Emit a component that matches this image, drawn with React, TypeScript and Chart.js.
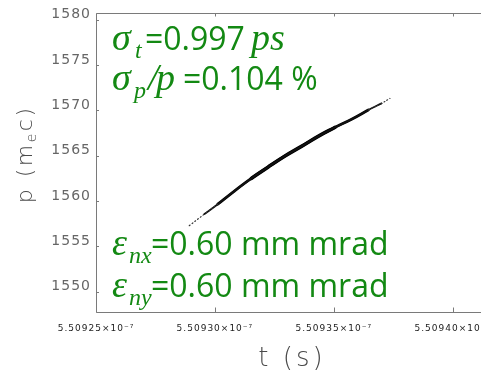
import React, { useEffect, useRef } from "react";
import { Chart, registerables } from "chart.js";

Chart.register(...registerables);

// t in units of 1e-7 s, p in units of m_e c
const tValues = [
  5.5092892, 5.5092956, 5.5093012, 5.5093082, 5.5093153, 5.5093223, 5.5093293,
  5.5093364, 5.5093434, 5.5093504, 5.5093575, 5.5093645, 5.5093701, 5.5093736,
];
const pValues = [
  1557.29, 1558.57, 1559.66, 1561.11, 1562.5, 1563.74, 1564.94,
  1566.03, 1567.13, 1568.11, 1569.02, 1570.04, 1570.77, 1571.31,
];
const xTickValues = [5.50925, 5.5093, 5.50935, 5.5094];
const yTickValues = [1550, 1555, 1560, 1565, 1570, 1575, 1580];
const xRange = [5.50925, 5.509414];
const yRange = [1547.78, 1580.68];
const xTitle = "t (s)";
const yTitleParts = ["p (m", "e", "c)"];

const sigmaT = "0.997";
const sigmaP = "0.104";
const emitX = "0.60";
const emitY = "0.60";

const GREEN = "#138913";
const GREEK = "italic 38px 'Liberation Serif'";
const SUB = "italic 24px 'Liberation Serif'";
const SANS = "32px 'Open Sans'";

type Part = { t: string; f: string; x: number; dy?: number };
const annotationLines: { y: number; parts: Part[] }[] = [
  {
    y: 50,
    parts: [
      { t: "σ", f: GREEK, x: 0 },
      { t: "t", f: SUB, x: 23, dy: 8 },
      { t: "=" + sigmaT, f: SANS, x: 33 },
      { t: "ps", f: GREEK, x: 139 },
    ],
  },
  {
    y: 90,
    parts: [
      { t: "σ", f: GREEK, x: 0 },
      { t: "p", f: SUB, x: 22, dy: 8 },
      { t: "/", f: GREEK, x: 36 },
      { t: "p", f: GREEK, x: 44 },
      { t: "=" + sigmaP + " %", f: SANS, x: 71 },
    ],
  },
  {
    y: 255,
    parts: [
      { t: "ε", f: GREEK, x: 0 },
      { t: "nx", f: SUB, x: 17, dy: 8 },
      { t: "=" + emitX + " mm mrad", f: SANS, x: 39 },
    ],
  },
  {
    y: 297,
    parts: [
      { t: "ε", f: GREEK, x: 0 },
      { t: "ny", f: SUB, x: 17, dy: 8 },
      { t: "=" + emitY + " mm mrad", f: SANS, x: 39 },
    ],
  },
];

const pts = (from: number, to: number) =>
  tValues.slice(from, to + 1).map((t, i) => ({ x: t, y: pValues[from + i] }));

const framePlugin = {
  id: "frame",
  beforeDraw(chart: any) {
    chart.ctx.letterSpacing = "1px";
  },
  afterDraw(chart: any) {
    const { ctx, chartArea: a, scales } = chart;
    ctx.save();
    ctx.letterSpacing = "0px";
    ctx.strokeStyle = "#7a7a7a";
    ctx.lineWidth = 1;
    ctx.beginPath();
    const L = Math.round(a.left) + 0.5;
    const T = Math.round(a.top) + 0.5;
    const B = Math.round(a.bottom) + 0.5;
    ctx.moveTo(chart.width, T);
    ctx.lineTo(L, T);
    ctx.lineTo(L, B);
    ctx.lineTo(chart.width, B);
    for (const tk of scales.x.ticks) {
      const px = Math.round(scales.x.getPixelForValue(tk.value)) + 0.5;
      ctx.moveTo(px, B);
      ctx.lineTo(px, B - 5);
      ctx.moveTo(px, T);
      ctx.lineTo(px, T + 3);
    }
    for (const tk of scales.y.ticks) {
      const py = Math.round(scales.y.getPixelForValue(tk.value)) + 0.5;
      ctx.moveTo(L, py);
      ctx.lineTo(L + 2.5, py);
    }
    ctx.stroke();

    // axis titles
    ctx.fillStyle = "#4a4a4a";
    ctx.font = "300 26px 'DejaVu Sans'";
    ctx.letterSpacing = "3px";
    ctx.textAlign = "center";
    ctx.textBaseline = "middle";
    ctx.fillText(xTitle, (a.left + a.right) / 2 + 1, a.bottom + 47);

    ctx.save();
    ctx.translate(32, a.top + 141);
    ctx.rotate(-Math.PI / 2);
    ctx.letterSpacing = "2.5px";
    ctx.textAlign = "left";
    ctx.textBaseline = "alphabetic";
    const fonts = ["300 22px 'DejaVu Sans'", "300 14px 'DejaVu Sans'", "300 22px 'DejaVu Sans'"];
    const dys = [0, 4, 0];
    let total = 0;
    const widths = yTitleParts.map((s, i) => {
      ctx.font = fonts[i];
      const w = ctx.measureText(s).width;
      total += w;
      return w;
    });
    let cx = -total / 2;
    yTitleParts.forEach((s, i) => {
      ctx.font = fonts[i];
      ctx.fillText(s, cx, dys[i]);
      cx += widths[i];
    });
    ctx.restore();

    // annotations
    ctx.letterSpacing = "0px";
    ctx.fillStyle = GREEN;
    ctx.textAlign = "left";
    ctx.textBaseline = "alphabetic";
    const x0 = a.left + 16;
    for (const line of annotationLines) {
      for (const p of line.parts) {
        ctx.font = p.f;
        ctx.fillText(p.t, x0 + p.x, line.y + (p.dy || 0));
      }
    }
    ctx.restore();
  },
};

export default function App() {
  const ref = useRef<HTMLCanvasElement | null>(null);
  useEffect(() => {
    if (!ref.current) return;
    const lineDs = (data: any[], width: number, dash: number[] | undefined, color: string) => ({
      data,
      showLine: true,
      borderColor: color,
      borderWidth: width,
      borderDash: dash || [],
      borderCapStyle: "round",
      pointRadius: 0,
      tension: 0.4,
      fill: false,
    });
    const chart = new Chart(ref.current, {
      type: "scatter",
      data: {
        datasets: [
          lineDs(pts(0, 2), 1.2, [1, 2.5], "#333"),
          lineDs(pts(11, 13), 1.2, [1, 2.5], "#333"),
          lineDs(pts(1, 12), 1.8, undefined, "#111"),
          lineDs(pts(2, 11), 2.8, undefined, "#000"),
          lineDs(pts(4, 9), 3.6, undefined, "#000"),
        ] as any,
      },
      options: {
        responsive: false,
        animation: false,
        events: [],
        layout: { padding: { left: 0, right: 14, top: 11, bottom: 0 } },
        plugins: { legend: { display: false }, tooltip: { enabled: false }, title: { display: false } },
        scales: {
          x: {
            type: "linear",
            min: xRange[0],
            max: xRange[1],
            grid: { display: false, drawTicks: false },
            border: { display: false },
            afterBuildTicks: (s: any) => {
              s.ticks = xTickValues.map((v) => ({ value: v }));
            },
            afterFit: (s: any) => {
              s.height = 64;
            },
            ticks: {
              maxRotation: 0,
              autoSkip: false,
              padding: 11,
              color: "#222",
              font: { family: "'DejaVu Sans'", size: 9 },
              callback: (v: any) => Number(v).toFixed(5) + "×10⁻⁷",
            },
          },
          y: {
            type: "linear",
            min: yRange[0],
            max: yRange[1],
            grid: { display: false, drawTicks: false },
            border: { display: false },
            afterBuildTicks: (s: any) => {
              s.ticks = yTickValues.map((v) => ({ value: v }));
            },
            afterFit: (s: any) => {
              s.width = 96;
            },
            ticks: {
              autoSkip: false,
              padding: 5,
              labelOffset: -5,
              color: "#666",
              font: { family: "'DejaVu Sans'", size: 14 },
              callback: (v: any) => String(v),
            },
          },
        },
      },
      plugins: [framePlugin],
    } as any);
    return () => chart.destroy();
  }, []);
  return (
    <div
      style={{
        position: "fixed",
        left: 0,
        top: 0,
        width: 481,
        height: 376,
        overflow: "hidden",
        background: "#fff",
      }}
    >
      <canvas ref={ref} width={500} height={376} style={{ display: "block" }} />
    </div>
  );
}
